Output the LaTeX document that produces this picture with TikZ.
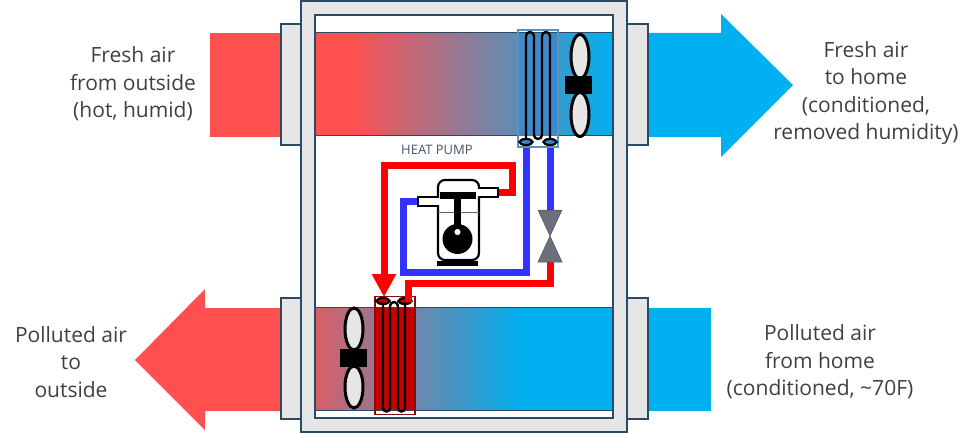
\documentclass[tikz,border=0pt]{standalone}
\usepackage{fontspec}
\setmainfont{Open Sans}
\usetikzlibrary{arrows.meta,calc}
\definecolor{airred}{HTML}{FF5050}
\definecolor{airblue}{HTML}{00B0F0}
\definecolor{framefill}{HTML}{E7E6E6}
\definecolor{frameedge}{HTML}{2A4A66}
\definecolor{pipered}{HTML}{FF0000}
\definecolor{pipeblue}{HTML}{3333FF}
\definecolor{labelgrey}{HTML}{404040}
\definecolor{hpgrey}{HTML}{44546A}
\definecolor{valvegrey}{HTML}{6B6F7A}
\definecolor{coolfill}{HTML}{3D88CC}
\definecolor{coolbox}{HTML}{5B93BE}
\definecolor{hotfill}{HTML}{C80000}
\definecolor{hotbox}{HTML}{8B0A0A}
\tikzset{
  framepart/.style={fill=framefill,draw=frameedge,line width=1.2pt},
  ductedge/.style={draw=frameedge,line width=1pt},
  label/.style={align=center,text=labelgrey,font=\fontsize{21}{27.6}\selectfont,inner sep=0pt},
  coilbox/.style={draw,rectangle,minimum width=40pt,line width=1.4pt,inner sep=0pt},
  tube/.style={draw=black,line width=2.4pt},
  blade/.style={fill=framefill,draw=black,line width=3pt},
  hub/.style={fill=black,draw=none,rectangle,minimum width=27pt,minimum height=18pt,inner sep=0pt},
  pipe/.style={line width=7pt,line cap=butt,line join=miter},
  comp/.style={fill=white,draw=black,line width=2.2pt},
  port/.style={fill=white,draw=black,line width=2pt,rectangle,inner sep=0pt},
  valvepart/.style={fill=valvegrey,draw=hpgrey,line width=.5pt},
}
\begin{document}
\begin{tikzpicture}[x=1pt,y=-1pt]
\useasboundingbox (0,0) rectangle (975,433);
% outside air bodies and arrows
\fill[airred] (210,33) rectangle (282,137);
\fill[airblue] (647,33) -- (721,33) -- (721,14) -- (793,85) -- (721,157) -- (721,137) -- (647,137) -- cycle;
\fill[airred] (282,308) -- (205,308) -- (205,289) -- (135,360) -- (205,430) -- (205,411) -- (282,411) -- cycle;
\fill[airblue] (647,308) rectangle (711,411);
% flanges
\draw[framepart] (281,24) rectangle (301,145);
\draw[framepart] (281,298) rectangle (301,419);
\draw[framepart] (627,24) rectangle (648,145);
\draw[framepart] (627,298) rectangle (648,419);
% ducts
\fill[airred] (315,33) rectangle (351,136);
\shade[left color=airred,right color=airblue] (350,33) rectangle (613,136);
\shade[left color=airred!85!airblue,right color=airblue] (315,307) rectangle (521,410);
\fill[airblue] (520,307) rectangle (613,410);
\draw[ductedge] (315,33) -- (613,33);
\draw[ductedge] (315,136) -- (613,136);
\draw[ductedge] (315,307) -- (613,307);
\draw[ductedge] (315,410) -- (613,410);
% cabinet frame
\draw[framepart,even odd rule] (301,1) rectangle (627,432) (315,15) rectangle (613,418);
% pipes
\node[coordinate] (hotcoil) at (408,300) {};
\node[coordinate] (hotin) at (384,297) {};
\node[coordinate] (coldA) at (526,146) {};
\node[coordinate] (coldB) at (550,146) {};
\node[port,minimum width=20pt,minimum height=9pt] (suction) at (428,201.5) {};
\node[port,minimum width=19pt,minimum height=9pt] (discharge) at (488,192.5) {};
\node[coordinate] (valvetop) at (550,210) {};
\node[coordinate] (valvemid) at (550,236) {};
\node[coordinate] (valvebot) at (550,262) {};
\draw[pipe,pipeblue] (coldA) |- (403,272) |- (suction.west);
\draw[pipe,pipeblue] (coldB) -- (valvetop);
\draw[pipe,pipered] (valvebot) |- (408,283) -- (hotcoil);
\draw[pipe,pipered,-{Triangle[width=23pt,length=23pt]}] (discharge.east) -| (512,166) -| (hotin);
% valve
\draw[valvepart] (538,210) -- (562,210) -- (valvemid) -- cycle;
\draw[valvepart] (538,262) -- (562,262) -- (valvemid) -- cycle;
% compressor
\draw[comp,rounded corners=7pt] (438,180) rectangle (479,260);
\node[port,minimum width=20pt,minimum height=9pt] at (428,201.5) {};
\node[port,minimum width=19pt,minimum height=9pt] at (488,192.5) {};
\fill[white] (436,198) rectangle (441,205);
\fill[white] (477,189) rectangle (481,196);
\draw[black!60,line width=.7pt] (438,212) -- (479,212);
\fill[black] (440,192) rectangle (476,199);
\fill[black] (437,261) rectangle (478,266);
\fill[black] (454,199) rectangle (461,228);
\fill[black] (457.5,239) circle (15);
\draw[fill=white,draw=black,line width=2.4pt] (457.5,232) circle (4.5);
% top coil
\fill[coolfill,opacity=.85] (518,33) rectangle (558,136);
\node[coilbox,minimum height=117pt,draw=coolbox] (coolcoil) at (538,88.5) {};
\draw[tube] (526,142) -- (526,36) arc[start angle=180,end angle=360,radius=4] -- (534,135) arc[start angle=180,end angle=0,radius=4] -- (542,36) arc[start angle=180,end angle=360,radius=4] -- (550,142);
\draw[line width=2.2pt,fill=coolfill] (526,142) ellipse[x radius=6.5,y radius=3];
\draw[line width=2.2pt,fill=coolfill] (550,142) ellipse[x radius=6.5,y radius=3];
% top fan
\draw[blade] (580,56.5) ellipse[x radius=9,y radius=22];
\draw[blade] (580,114.5) ellipse[x radius=9,y radius=22];
\node[hub] (fanA) at (578.5,85.5) {};
% bottom coil
\fill[hotfill] (375,307) rectangle (415,410);
\node[coilbox,minimum height=118pt,draw=hotbox] (hotcoilbox) at (395,355.5) {};
\draw[tube] (383,301) -- (383,408) arc[start angle=180,end angle=0,radius=3.5] -- (390,306) arc[start angle=180,end angle=360,radius=4] -- (398,408) arc[start angle=180,end angle=0,radius=3.5] -- (405,301);
\draw[line width=2.2pt,fill=hotfill] (383,301) ellipse[x radius=6.5,y radius=3];
\draw[line width=2.2pt,fill=hotfill] (405,301) ellipse[x radius=6.5,y radius=3];
\fill[pipered] (404.5,296) rectangle (411.5,302);
% bottom fan
\draw[blade] (354,329) ellipse[x radius=9,y radius=21];
\draw[blade] (354,387) ellipse[x radius=9,y radius=21];
\node[hub] (fanB) at (353.5,358) {};
% labels
\node[inner sep=0pt,text=hpgrey,font=\fontsize{13}{16}\selectfont] (hp) at (437,150) {HEAT PUMP};
\node[label] (t1) at (133,84) {Fresh air\\from outside\\(hot, humid)};
\node[label] (t2) at (866,93) {Fresh air\\to home\\(conditioned,\\removed humidity)};
\node[label] (t3) at (71,362) {Polluted air\\to\\outside};
\node[label] (t4) at (820,362) {Polluted air\\from home\\(conditioned, \textasciitilde70F)};
\end{tikzpicture}
\end{document}
